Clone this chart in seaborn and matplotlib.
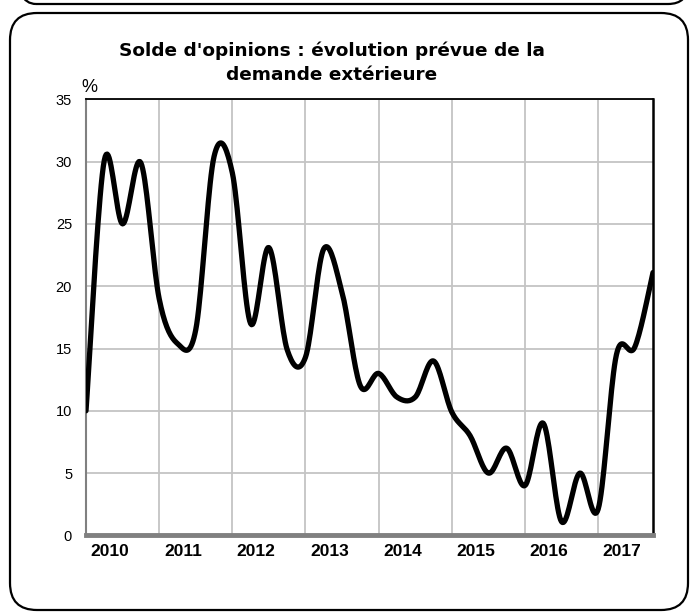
import numpy as np
import seaborn as sns
import matplotlib.pyplot as plt
from matplotlib.patches import FancyBboxPatch

# quarterly balance of opinions, 2010Q1 .. 2017Q4
values = [10, 30.1, 25, 29.9, 19, 15.4, 16.5, 30.4,
          29.1, 17, 23.1, 14.9, 14.3, 23, 19.5, 12,
          13, 11.1, 11.1, 14, 9.9, 8, 5, 7,
          4, 9, 1.1, 5, 2.1, 14.5, 15.1, 21.1]
years = ["2010", "2011", "2012", "2013", "2014", "2015", "2016", "2017"]
yticks = [0, 5, 10, 15, 20, 25, 30, 35]


def smooth(x, y, n=20):
    # excel-like smoothed line (catmull-rom as cubic bezier)
    x = np.asarray(x, float)
    y = np.asarray(y, float)
    px = np.concatenate([[x[0]], x, [x[-1]]])
    py = np.concatenate([[y[0]], y, [y[-1]]])
    t = np.linspace(0, 1, n)[:, None]
    xs, ys = [], []
    for i in range(1, len(px) - 2):
        b0 = np.array([px[i], py[i]])
        b3 = np.array([px[i + 1], py[i + 1]])
        b1 = b0 + (np.array([px[i + 1], py[i + 1]]) - np.array([px[i - 1], py[i - 1]])) / 6
        b2 = b3 - (np.array([px[i + 2], py[i + 2]]) - np.array([px[i], py[i]])) / 6
        pts = ((1 - t) ** 3) * b0 + 3 * ((1 - t) ** 2) * t * b1 + 3 * (1 - t) * t ** 2 * b2 + t ** 3 * b3
        xs.append(pts[:, 0])
        ys.append(pts[:, 1])
    return np.concatenate(xs), np.concatenate(ys)


sns.set_style("white")
plt.rcParams['font.family'] = ['Liberation Sans', 'DejaVu Sans']
plt.rcParams['text.color'] = 'black'
plt.rcParams['xtick.color'] = 'black'
plt.rcParams['ytick.color'] = 'black'

fig = plt.figure(figsize=(6.91, 6.13), dpi=100)
ax = fig.add_axes([86 / 691, 1 - 535.4 / 613, 567 / 691, 436.1 / 613])

# frames around the chart (pixel units via inches)
top_box = FancyBboxPatch((0.16, 6.09), 6.72, 0.6, boxstyle="round,pad=0,rounding_size=0.2",
                         transform=fig.dpi_scale_trans, fill=False, lw=1.6, ec="black",
                         clip_on=False)
main_box = FancyBboxPatch((0.10, 0.03), 6.78, 5.97, boxstyle="round,pad=0,rounding_size=0.27",
                          transform=fig.dpi_scale_trans, fill=False, lw=1.6, ec="black",
                          clip_on=False)
fig.patches.extend([top_box, main_box])

xq = np.arange(len(values))
sx, sy = smooth(xq, values)
sns.lineplot(x=sx, y=sy, sort=False, estimator=None, color="black", lw=3.8, ax=ax,
             solid_joinstyle="round", zorder=3)

ax.set_xlim(0, len(values) - 1)
ax.set_ylim(0, 35)
ax.set_yticks(yticks)
ax.set_yticklabels([str(v) for v in yticks], fontsize=10.5)
ax.set_xticks(np.arange(0, len(values), 4))
ax.set_xticklabels([])
ax.set_xticks(np.arange(0, len(values), 4) + 1.3, minor=True)
ax.set_xticklabels(years, minor=True, fontsize=12.5, fontweight="bold")
ax.tick_params(axis="x", which="minor", length=0, pad=6)
ax.tick_params(axis="x", which="major", length=4, width=3, color="#808080", direction="out")
ax.tick_params(axis="y", length=4, width=1.2, color="#808080", pad=6)

ax.grid(True, which="major", color="#c4c4c4", lw=1.3)
ax.set_axisbelow(True)
ax.spines["left"].set_color("#808080")
ax.spines["left"].set_linewidth(1.5)
ax.spines["bottom"].set_color("#808080")
ax.spines["bottom"].set_linewidth(3.5)
ax.spines["top"].set_color("black")
ax.spines["top"].set_linewidth(1.3)
ax.spines["right"].set_color("black")
ax.spines["right"].set_linewidth(1.8)

ax.text(-0.25, 35.3, "%", fontsize=13, ha="left", va="bottom")

fig.text(332 / 691, 1 - 63 / 613, "Solde d'opinions : évolution prévue de la\ndemande extérieure",
         ha="center", va="center", fontsize=13.3, fontweight="bold",
         family=["DejaVu Sans"], linespacing=1.4)

plt.savefig("out.png", dpi=100)
